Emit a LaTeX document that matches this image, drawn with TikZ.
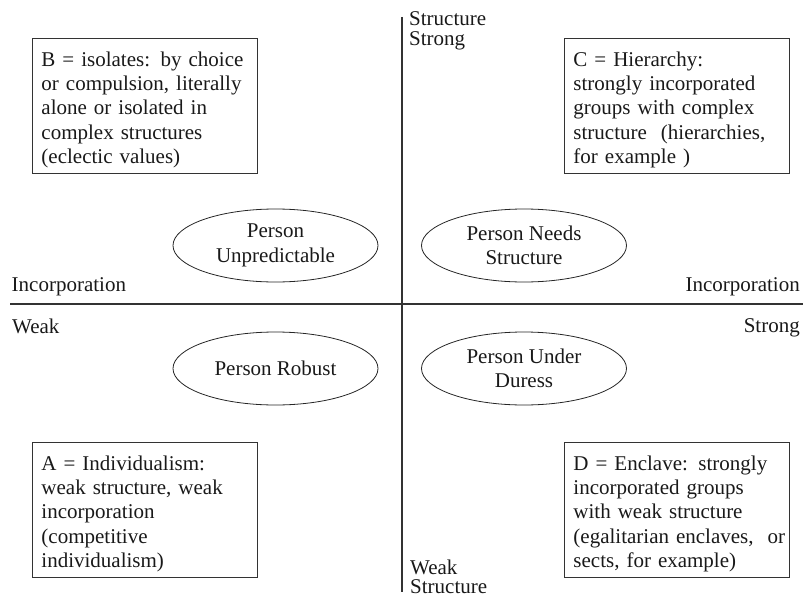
\documentclass[tikz,border=0pt]{standalone}
\usepackage{fontspec}
\setmainfont{Liberation Serif}
\usetikzlibrary{shapes.geometric}
\newcommand\qtopstrut{\rule{0pt}{22.6pt}}
\newcommand\qbotstrut{\rule[-4.5pt]{0pt}{4.5pt}}
\begin{document}
\begin{tikzpicture}[x=1pt,y=-1pt,
  every node/.style={font=\fontsize{21}{24.4}\selectfont, text=black!90},
  axis/.style={draw=black!80, line width=1.3pt},
  quad/.style={draw=black!80, line width=0.9pt, anchor=north west, text width=207pt, inner xsep=9pt, inner ysep=5pt, align=left},
  person/.style={draw=black!85, line width=0.8pt, ellipse, minimum width=205pt, minimum height=73pt, inner sep=0pt, align=center},
  lbl/.style={inner sep=0pt, font=\fontsize{21}{19.3}\selectfont}]
\useasboundingbox (0,0) rectangle (803,602);
% axes
\coordinate (vt) at (402,17);
\coordinate (vb) at (402,592);
\coordinate (hl) at (10,304);
\coordinate (hr) at (803,304);
\draw[axis] (vt) -- (vb);
\draw[axis] (hl) -- (hr);
% axis labels
\node[lbl, anchor=north west, align=left] (stop) at (409,11.8) {Structure\\Strong};
\node[lbl, anchor=north west, align=left] (sbot) at (410,559.4) {Weak\\Structure};
\node[lbl, anchor=base west] (incl) at (11.5,291) {Incorporation};
\node[lbl, anchor=base west] (weakl) at (12,333) {Weak};
\node[lbl, anchor=base east] (incr) at (800,291) {Incorporation};
\node[lbl, anchor=base east] (strongr) at (800,332) {Strong};
% quadrant boxes
\node[quad] (B) at (32,38) {\qtopstrut B = isolates: by choice\\or compulsion, literally\\alone or isolated in\\complex structures\\(eclectic values)\qbotstrut};
\node[quad] (C) at (564,38) {\qtopstrut C = Hierarchy:\\strongly incorporated\\groups with complex\\\mbox{structure\ \ (hierarchies,}\\for example )\qbotstrut};
\node[quad] (A) at (32,442) {\qtopstrut A = Individualism:\\weak structure, weak\\incorporation\\(competitive\\individualism)\qbotstrut};
\node[quad] (D) at (564,442) {\qtopstrut D = Enclave: strongly\\incorporated groups\\with weak structure\\\mbox{(egalitarian enclaves,\ \ or}\\sects, for example)\qbotstrut};
% persons
\node[person] (pu) at (275.5,245.5) {Person\\Unpredictable};
\node[person] (pn) at (524,245.5) {Person Needs\\Structure};
\node[person] (pr) at (275.5,368.5) {Person Robust};
\node[person] (pd) at (524,368.5) {Person Under\\Duress};
\end{tikzpicture}
\end{document}
